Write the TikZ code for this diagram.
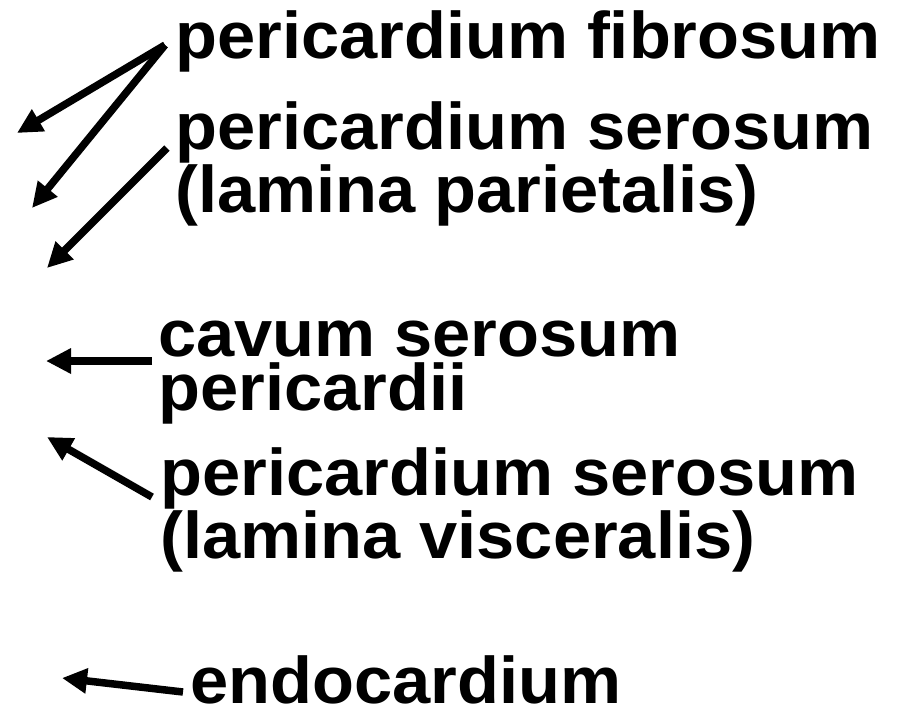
\documentclass[tikz,border=0pt]{standalone}
\usepackage{fontspec}
\newfontfamily\lblfont[FakeStretch=1.04]{Liberation Sans}
\usepackage{tikz}
\usetikzlibrary{
    arrows.meta,
    calc
}

\begin{document}
\begin{tikzpicture}[x=1pt,y=-1pt,
   lbl/.style={anchor=base west,inner sep=0pt,align=left,
     font=\lblfont\bfseries\fontsize{66}{54}\selectfont},
   arr/.style={line width=7.5pt,-{Triangle[length=25pt,width=24pt]}}]
  \useasboundingbox (0,0) rectangle (902,716);
  % labels (base = last line)
  \node[lbl](fib) at (175,58){pericardium fibrosum};
  \node[lbl](par) at (175,212){pericardium serosum\\(lamina parietalis)};
  \node[lbl](cav) at (158,410){cavum serosum\\pericardii};
  \node[lbl](vis) at (160,558){pericardium serosum\\(lamina visceralis)};
  \node[lbl](endo) at (190,703){endocardium};
  % arrow tips
  \coordinate (t1) at (17,133);  \coordinate (t2) at (32,208);
  \coordinate (t3) at (47,268);  \coordinate (t4) at (46,361);
  \coordinate (t5) at (47,437);  \coordinate (t6) at (62,678);
  % arrows
  \draw[arr] ($(fib.base west)+(-10,-13)$) -- (t1);
  \draw[arr] ($(fib.base west)+(-10,-13)$) -- (t2);
  \draw[arr] ($(par.base west)+(-8,-64)$) -- (t3);
  \draw[arr] ($(cav.base west)+(-6,-49)$) -- (t4);
  \draw[arr] ($(vis.base west)+(-8,-61)$) -- (t5);
  \draw[arr] ($(endo.base west)+(-7,-11)$) -- (t6);
\end{tikzpicture}
\end{document}
